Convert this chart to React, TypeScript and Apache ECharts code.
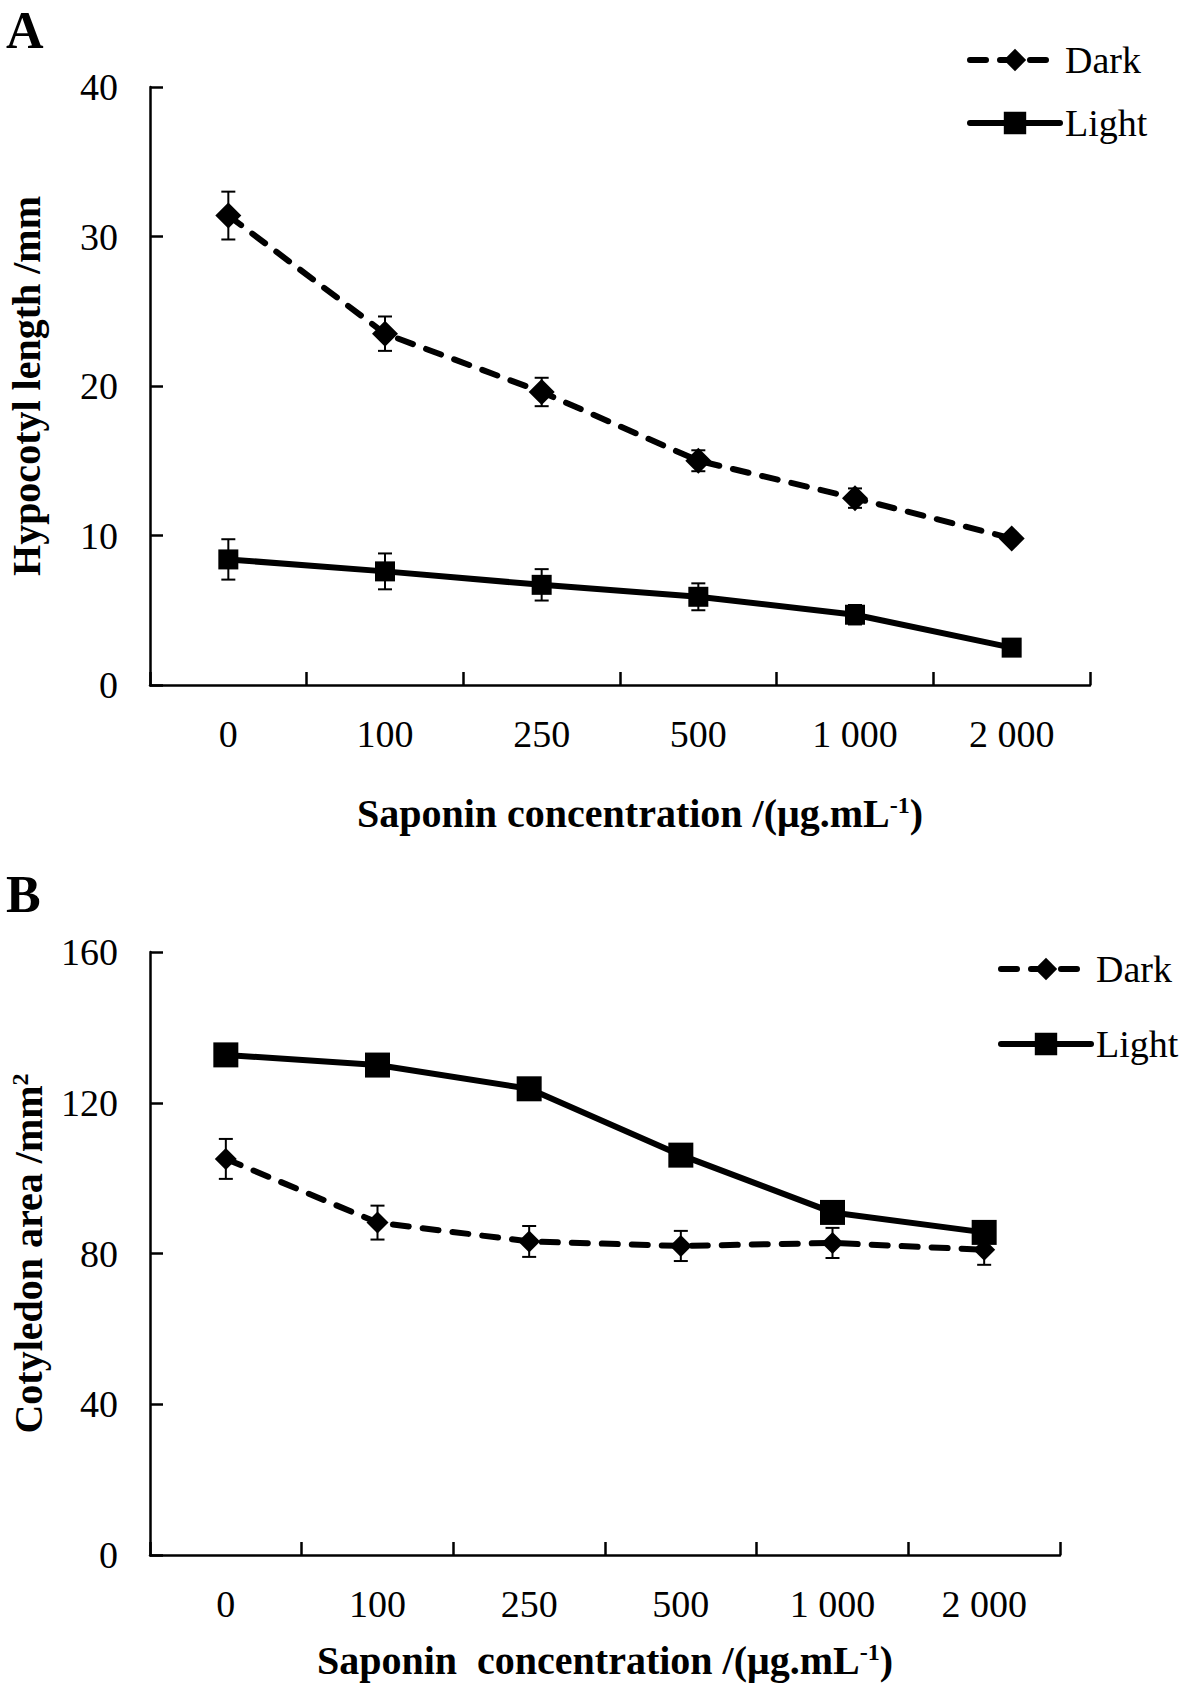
import React, { useEffect, useRef } from "react";
import * as echarts from "echarts";

const FONT = '"Liberation Serif", "Times New Roman", serif';

const catLabels = ["0", "100", "250", "500", "1 000", "2 000"];

// Panel A: hypocotyl length (mm)
const hypDark = [31.4, 23.5, 19.6, 15.0, 12.5, 9.8];
const hypDarkErr = [1.6, 1.15, 0.95, 0.7, 0.65, 0.3];
const hypLight = [8.4, 7.6, 6.7, 5.9, 4.7, 2.5];
const hypLightErr = [1.35, 1.2, 1.05, 0.9, 0.65, 0.2];

// Panel B: cotyledon area (mm2)
const cotDark = [105.1, 88.2, 83.2, 82.0, 82.8, 81.0];
const cotDarkErr = [5.3, 4.5, 4.1, 4.0, 4.0, 4.0];
const cotLight = [132.7, 130.0, 123.7, 106.1, 90.9, 85.6];

const errRender = (params: any, api: any) => {
  const x = api.value(0);
  const y = api.value(1);
  const e = api.value(2);
  const top = api.coord([x, y + e]);
  const bot = api.coord([x, y - e]);
  const hw = 7;
  const st = { stroke: "#000", lineWidth: 2 };
  return {
    type: "group",
    children: [
      { type: "line", shape: { x1: top[0], y1: top[1], x2: bot[0], y2: bot[1] }, style: st },
      { type: "line", shape: { x1: top[0] - hw, y1: top[1], x2: top[0] + hw, y2: top[1] }, style: st },
      { type: "line", shape: { x1: bot[0] - hw, y1: bot[1], x2: bot[0] + hw, y2: bot[1] }, style: st },
    ],
  };
};

const mkX = (gridIndex: number, name: string, gap: number, padLeft: number) => ({
  type: "category",
  gridIndex,
  data: catLabels,
  boundaryGap: true,
  axisLine: { lineStyle: { color: "#000", width: 2.5 } },
  axisTick: { show: true, inside: true, length: 13, lineStyle: { color: "#000", width: 2.5 } },
  axisLabel: { color: "#000", fontFamily: FONT, fontSize: 38, margin: 30 },
  name,
  nameLocation: "middle",
  nameGap: gap,
  nameTextStyle: {
    color: "#000",
    fontFamily: FONT,
    fontSize: 40,
    fontWeight: "bold",
    padding: [0, 0, 0, padLeft],
    rich: {
      sup: { fontFamily: FONT, fontSize: 24, fontWeight: "bold", verticalAlign: "top", color: "#000" },
    },
  },
});

const mkY = (gridIndex: number, max: number, interval: number, name: string, gap: number) => ({
  type: "value",
  gridIndex,
  min: 0,
  max,
  interval,
  splitLine: { show: false },
  axisLine: { show: true, lineStyle: { color: "#000", width: 2.5 } },
  axisTick: { show: true, inside: true, length: 13, lineStyle: { color: "#000", width: 2.5 } },
  axisLabel: { color: "#000", fontFamily: FONT, fontSize: 38, margin: 32 },
  name,
  nameLocation: "middle",
  nameRotate: 90,
  nameGap: gap,
  nameTextStyle: {
    color: "#000",
    fontFamily: FONT,
    fontSize: 40,
    fontWeight: "bold",
    rich: {
      sup: { fontFamily: FONT, fontSize: 24, fontWeight: "bold", verticalAlign: "top", color: "#000" },
    },
  },
});

const darkLine = { color: "#000", width: 6, type: [16, 14], cap: "round" };
const lightLine = { color: "#000", width: 6, type: "solid", cap: "round" };

export default function App() {
  const ref = useRef<HTMLDivElement>(null);
  useEffect(() => {
    document.body.style.margin = "0";
    if (!ref.current) return;
    const chart = echarts.init(ref.current, undefined, { renderer: "svg" });
    const legendBase = {
      orient: "vertical",
      itemWidth: 90,
      itemHeight: 28,
      data: ["Dark", "Light"],
      textStyle: { fontFamily: FONT, fontSize: 38, color: "#000", lineHeight: 40 },
      lineStyle: { width: 6, cap: "round" },
      selectedMode: false,
    };
    const option: any = {
      animation: false,
      backgroundColor: "#fff",
      textStyle: { fontFamily: FONT, color: "#000" },
      grid: [
        { left: 150, top: 87, width: 940, height: 598, outerBoundsMode: "none", containLabel: false },
        { left: 150, top: 952, width: 910, height: 603, outerBoundsMode: "none", containLabel: false },
      ],
      xAxis: [
        mkX(0, "Saponin concentration /(μg.mL{sup|-1})", 108, 40),
        mkX(1, "Saponin  concentration /(μg.mL{sup|-1})", 85, 0),
      ],
      yAxis: [
        mkY(0, 40, 10, "Hypocotyl length /mm", 104),
        mkY(1, 160, 40, "Cotyledon area /mm{sup|2}", 102),
      ],
      legend: [
        { ...legendBase, left: 962, top: 35, itemGap: 23 },
        { ...legendBase, left: 993, top: 944, itemGap: 35 },
      ],
      graphic: [
        { type: "text", left: 6, top: 4, style: { text: "A", font: `bold 52px ${FONT}`, fill: "#000" } },
        { type: "text", left: 6, top: 868, style: { text: "B", font: `bold 52px ${FONT}`, fill: "#000" } },
      ],
      series: [
        {
          type: "custom",
          name: "Dark SD A",
          xAxisIndex: 0,
          yAxisIndex: 0,
          renderItem: errRender,
          encode: { x: 0, y: 1 },
          data: hypDark.map((v, i) => [i, v, hypDarkErr[i]]),
          z: 1,
        },
        {
          type: "custom",
          name: "Light SD A",
          xAxisIndex: 0,
          yAxisIndex: 0,
          renderItem: errRender,
          encode: { x: 0, y: 1 },
          data: hypLight.map((v, i) => [i, v, hypLightErr[i]]),
          z: 1,
        },
        {
          type: "custom",
          name: "Dark SD B",
          xAxisIndex: 1,
          yAxisIndex: 1,
          renderItem: errRender,
          encode: { x: 0, y: 1 },
          data: cotDark.map((v, i) => [i, v, cotDarkErr[i]]),
          z: 1,
        },
        {
          type: "line",
          name: "Dark",
          xAxisIndex: 0,
          yAxisIndex: 0,
          data: hypDark,
          symbol: "diamond",
          symbolSize: 26,
          itemStyle: { color: "#000" },
          lineStyle: darkLine,
          z: 3,
        },
        {
          type: "line",
          name: "Light",
          xAxisIndex: 0,
          yAxisIndex: 0,
          data: hypLight,
          symbol: "rect",
          symbolSize: 20,
          itemStyle: { color: "#000" },
          lineStyle: lightLine,
          z: 3,
        },
        {
          type: "line",
          name: "Dark",
          xAxisIndex: 1,
          yAxisIndex: 1,
          data: cotDark,
          symbol: "diamond",
          symbolSize: 22,
          itemStyle: { color: "#000" },
          lineStyle: darkLine,
          z: 3,
        },
        {
          type: "line",
          name: "Light",
          xAxisIndex: 1,
          yAxisIndex: 1,
          data: cotLight,
          symbol: "rect",
          symbolSize: 25,
          itemStyle: { color: "#000" },
          lineStyle: lightLine,
          z: 4,
        },
      ],
    };
    chart.setOption(option);
    return () => chart.dispose();
  }, []);
  return <div ref={ref} style={{ width: 1181, height: 1684 }} />;
}
